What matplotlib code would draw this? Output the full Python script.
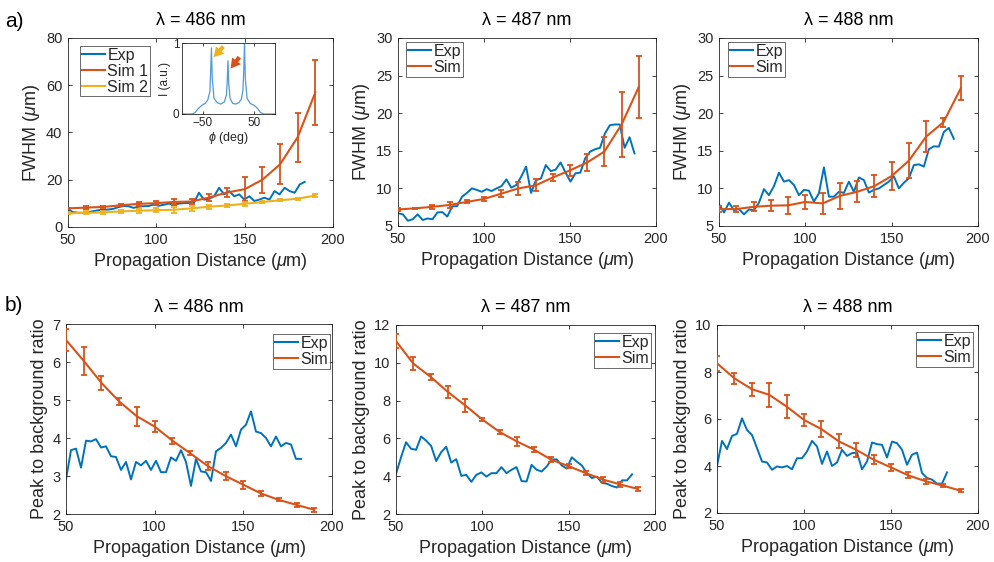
import numpy as np
import matplotlib
matplotlib.use('Agg')
import matplotlib.pyplot as plt
from matplotlib.lines import Line2D

plt.rcParams['font.family'] = ['Liberation Sans', 'DejaVu Sans']
plt.rcParams['mathtext.fontset'] = 'custom'
plt.rcParams['mathtext.rm'] = 'Liberation Sans'
plt.rcParams['mathtext.it'] = 'Liberation Sans:italic'

BLUE = '#0072BD'
ORANGE = '#D95319'
YELLOW = '#EDB120'
AXC = '#262626'

sim_x = [50, 60, 70, 80, 90, 100, 110, 120, 130, 140, 150, 160, 170, 180, 190]

# ---- a) FWHM ----
fw486_exp = [7.4, 6.3, 6.05, 6.0, 6.2, 6.7, 7.1, 7.3, 7.4, 7.7, 8.4, 8.9, 8.8, 8.1, 8.6, 8.8, 8.9, 9.5,
             9.0, 9.4, 9.9, 9.5, 9.9, 10.1, 10.2, 10.2, 14.5, 11.6, 11.9, 13.0, 16.6, 13.8, 15.2, 13.0,
             13.8, 11.6, 13.0, 11.0, 11.6, 12.4, 11.6, 15.2, 13.8, 16.6, 15.2, 14.5, 18.0, 19.1]
fw486_sim1 = [7.9, 8.2, 8.5, 9.2, 9.8, 10.1, 10.6, 10.8, 12.5, 14.6, 16.0, 20.0, 26.5, 38.0, 57.0]
fw486_sim1_err = [0.3, 0.5, 0.5, 0.5, 0.8, 0.8, 1.2, 0.9, 1.4, 2.0, 5.1, 5.5, 8.5, 10.3, 13.8]
fw486_sim2 = [5.8, 6.0, 6.2, 6.6, 6.9, 7.1, 7.3, 7.9, 8.6, 9.1, 9.8, 10.6, 11.3, 12.0, 13.3]
fw486_sim2_err = [0.4, 0.6, 0.6, 0.6, 0.8, 0.8, 1.2, 1.2, 0.8, 0.8, 0.8, 0.6, 0.4, 0.4, 0.8]

fw487_exp = [6.7, 6.55, 5.7, 5.9, 6.55, 5.8, 6.0, 5.9, 6.8, 6.85, 6.25, 7.6, 7.65, 8.9, 9.4, 10.0,
             9.8, 9.55, 9.9, 9.65, 10.0, 10.3, 11.2, 10.1, 10.45, 11.55, 12.9, 9.4, 11.1, 11.3, 13.1,
             12.3, 12.5, 13.45, 12.1, 10.9, 12.0, 12.1, 14.0, 14.9, 15.2, 15.4, 17.3, 18.4, 18.5,
             18.5, 15.4, 16.8, 14.65]
fw487_sim = [7.2, 7.35, 7.55, 7.8, 8.2, 8.6, 9.3, 10.0, 10.4, 11.45, 12.4, 13.45, 14.9, 18.5, 23.5]
fw487_sim_err = [0.25, 0.1, 0.3, 0.4, 0.2, 0.25, 0.5, 0.9, 0.8, 0.5, 0.7, 1.1, 1.9, 4.3, 4.1]

fw488_exp = [7.9, 6.8, 8.1, 7.1, 7.25, 6.55, 7.2, 7.1, 8.1, 9.9, 9.1, 10.3, 12.1, 10.9, 11.1, 10.45,
             9.1, 9.8, 9.7, 8.25, 9.35, 12.8, 8.9, 8.9, 9.55, 9.4, 10.9, 9.55, 11.45, 11.1, 9.45, 9.8,
             10.0, 10.45, 10.9, 11.6, 10.0, 10.75, 11.35, 13.1, 13.2, 12.9, 15.2, 15.6, 15.55, 17.5,
             18.05, 16.6]
fw488_sim = [7.25, 7.25, 7.55, 7.7, 7.75, 8.2, 8.0, 9.0, 9.55, 10.3, 11.65, 13.7, 16.9, 18.8, 23.3]
fw488_sim_err = [0.4, 0.4, 0.6, 0.7, 1.1, 0.9, 1.4, 1.7, 1.4, 1.5, 1.8, 2.3, 2.1, 0.6, 1.6]

# ---- b) peak to background ratio ----
pb486_exp = [2.91, 3.68, 3.72, 3.22, 3.93, 3.91, 3.97, 3.75, 3.78, 3.52, 3.5, 3.16, 3.37, 2.91, 3.37,
             3.28, 3.4, 3.16, 3.4, 3.1, 3.1, 3.49, 3.4, 3.68, 3.37, 2.74, 3.45, 3.12, 3.1, 2.87, 3.65,
             3.74, 3.87, 4.09, 3.78, 4.22, 4.35, 4.7, 4.17, 4.13, 4.0, 3.78, 4.04, 3.78, 3.87, 3.83,
             3.45, 3.45]
pb486_sim = [6.58, 6.03, 5.45, 4.96, 4.57, 4.3, 3.93, 3.6, 3.26, 3.0, 2.77, 2.54, 2.37, 2.24, 2.11]
pb486_sim_err = [0.28, 0.37, 0.18, 0.1, 0.25, 0.15, 0.08, 0.05, 0.1, 0.1, 0.1, 0.07, 0.04, 0.05, 0.05]

pb487_exp = [4.12, 5.0, 5.8, 5.45, 5.4, 6.1, 5.88, 5.6, 4.8, 5.27, 5.56, 4.72, 4.9, 4.02, 4.07, 3.7,
             4.07, 4.2, 3.98, 4.16, 4.16, 4.48, 4.16, 4.34, 4.48, 3.74, 3.72, 4.6, 4.34, 4.25, 4.51,
             4.89, 4.89, 4.57, 4.4, 5.0, 4.77, 4.57, 4.16, 3.9, 3.98, 3.65, 3.6, 3.48, 3.4, 3.78,
             3.78, 4.1]
pb487_sim = [11.15, 9.96, 9.26, 8.46, 7.75, 7.0, 6.34, 5.84, 5.4, 4.87, 4.53, 4.16, 3.82, 3.56, 3.33]
pb487_sim_err = [0.35, 0.35, 0.15, 0.3, 0.35, 0.08, 0.12, 0.22, 0.12, 0.13, 0.12, 0.1, 0.15, 0.12, 0.12]

pb488_exp = [4.0, 5.07, 4.72, 5.28, 5.37, 6.03, 5.53, 5.32, 4.76, 4.19, 4.15, 3.84, 3.98, 3.94, 4.0,
             3.86, 4.33, 4.33, 4.62, 5.07, 4.83, 4.09, 4.62, 4.0, 4.15, 4.69, 4.43, 4.55, 4.57, 3.86,
             4.19, 5.0, 4.93, 4.9, 4.36, 5.04, 4.97, 4.69, 4.05, 4.48, 4.57, 3.7, 3.49, 3.42, 3.25,
             3.25, 3.73]
pb488_sim = [8.37, 7.73, 7.27, 7.03, 6.53, 5.96, 5.57, 5.05, 4.69, 4.27, 3.94, 3.6, 3.35, 3.16, 2.95]
pb488_sim_err = [0.33, 0.22, 0.28, 0.5, 0.5, 0.25, 0.35, 0.3, 0.3, 0.2, 0.15, 0.13, 0.1, 0.07, 0.07]

# last x of each measured series
exp_end = {'a486': 184, 'a487': 187.5, 'a488': 186, 'b486': 182.5, 'b487': 186.7, 'b488': 182.2}

# inset angular profile
inset_phi = [-90, -70, -65, -58, -52, -45, -40, -36, -34.5, -33, -31.5, -28, -22, -15, -8, -4, -2.5,
             -1, 0.5, 3, 8, 14, 20, 25, 28, 29.5, 31, 32.5, 36, 42, 50, 56, 62, 68, 90]
inset_I = [0, 0, 0.02, 0.08, 0.12, 0.15, 0.2, 0.32, 0.6, 0.93, 0.5, 0.22, 0.16, 0.14, 0.17, 0.27,
           0.45, 0.75, 0.42, 0.22, 0.15, 0.14, 0.16, 0.21, 0.34, 0.6, 1.0, 0.5, 0.22, 0.15, 0.12,
           0.08, 0.02, 0, 0]

W, H = 995, 562
fig = plt.figure(figsize=(W / 100, H / 100), dpi=100)


def px_axes(l, t, r, b):
    return fig.add_axes([l / W, 1 - b / H, (r - l) / W, (b - t) / H])


def style(ax, tsize=10.5):
    for s in ax.spines.values():
        s.set_color(AXC)
        s.set_linewidth(0.6)
    ax.tick_params(direction='in', top=True, right=True, length=3, width=0.6,
                   color=AXC, labelcolor=AXC, labelsize=tsize, pad=4)


def legend(ax, labels, colors, anchor, loc):
    handles = [Line2D([], [], color=c, lw=1.5) for c in colors]
    lg = ax.legend(handles, labels, loc=loc, bbox_to_anchor=anchor, borderaxespad=0,
                   fontsize=11.5, frameon=True, fancybox=False, handlelength=1.45,
                   handletextpad=0.15, borderpad=0.12, labelspacing=0.05)
    lg.get_frame().set_edgecolor(AXC)
    lg.get_frame().set_linewidth(0.6)
    for t in lg.get_texts():
        t.set_color(AXC)


def sim_line(ax, y, err, color):
    ax.plot(sim_x, y, color=color, lw=1.5, zorder=3)
    ax.errorbar(sim_x, y, yerr=err, fmt='none', ecolor=color, elinewidth=1.3,
                capsize=2.5, capthick=1.3, zorder=3)


def exp_line(ax, y, end):
    x = np.linspace(50, end, len(y))
    ax.plot(x, y, color=BLUE, lw=1.4, zorder=2)


def finish(ax, title, ylabel, ylim, yticks):
    ax.set_xlim(50, 200)
    ax.set_xticks([50, 100, 150, 200])
    ax.set_ylim(*ylim)
    ax.set_yticks(yticks)
    ax.set_title(title, fontsize=13, color='black', pad=9)
    ax.set_xlabel(r'Propagation Distance ($\mu$m)', fontsize=13, color=AXC, labelpad=3)
    ax.set_ylabel(ylabel, fontsize=13, color=AXC, labelpad=3)
    style(ax)


fwhm_label = r'FWHM ($\mu$m)'
ratio_label = 'Peak to background ratio'

# row a
ax = px_axes(68, 38, 333, 227)
exp_line(ax, fw486_exp, exp_end['a486'])
sim_line(ax, fw486_sim1, fw486_sim1_err, ORANGE)
sim_line(ax, fw486_sim2, fw486_sim2_err, YELLOW)
finish(ax, 'λ = 486 nm', fwhm_label, (0, 80), [0, 20, 40, 60, 80])
legend(ax, ['Exp', 'Sim 1', 'Sim 2'], [BLUE, ORANGE, YELLOW], (12 / 265, 1 - 8 / 189), 'upper left')

ins = px_axes(182, 43, 275, 114)
ins.plot(inset_phi, inset_I, color='#4F9BDB', lw=0.9)
ins.set_xlim(-90, 90)
ins.set_ylim(0, 1)
ins.set_xticks([-50, 50])
ins.set_yticks([0, 1])
style(ins, tsize=8.5)
ins.tick_params(length=2, pad=2)
ins.set_xlabel(r'$\phi$ (deg)', fontsize=9, color=AXC, labelpad=1)
ins.set_ylabel('I (a.u.)', fontsize=8.5, color=AXC, labelpad=1)
arrow = 'simple,head_length=0.7,head_width=0.8,tail_width=0.3'
ins.annotate('', xy=(-29, 0.8), xytext=(-10, 0.95),
             arrowprops=dict(arrowstyle=arrow, color=YELLOW, mutation_scale=10,
                             shrinkA=0, shrinkB=0, lw=0))
ins.annotate('', xy=(4, 0.64), xytext=(21, 0.8),
             arrowprops=dict(arrowstyle=arrow, color=ORANGE, mutation_scale=10,
                             shrinkA=0, shrinkB=0, lw=0))

ax = px_axes(398, 38, 656, 226)
exp_line(ax, fw487_exp, exp_end['a487'])
sim_line(ax, fw487_sim, fw487_sim_err, ORANGE)
finish(ax, 'λ = 487 nm', fwhm_label, (5, 30), [5, 10, 15, 20, 25, 30])
legend(ax, ['Exp', 'Sim'], [BLUE, ORANGE], (8 / 258, 1 - 4 / 188), 'upper left')

ax = px_axes(719, 38, 978, 226)
exp_line(ax, fw488_exp, exp_end['a488'])
sim_line(ax, fw488_sim, fw488_sim_err, ORANGE)
finish(ax, 'λ = 488 nm', fwhm_label, (5, 30), [5, 10, 15, 20, 25, 30])
legend(ax, ['Exp', 'Sim'], [BLUE, ORANGE], (9 / 259, 1 - 4 / 188), 'upper left')

# row b
ax = px_axes(66, 324, 332, 514)
exp_line(ax, pb486_exp, exp_end['b486'])
sim_line(ax, pb486_sim, pb486_sim_err, ORANGE)
finish(ax, 'λ = 486 nm', ratio_label, (2, 7), [2, 3, 4, 5, 6, 7])
legend(ax, ['Exp', 'Sim'], [BLUE, ORANGE], (1 - 2 / 266, 1 - 10 / 190), 'upper right')

ax = px_axes(396, 325, 655, 514)
exp_line(ax, pb487_exp, exp_end['b487'])
sim_line(ax, pb487_sim, pb487_sim_err, ORANGE)
finish(ax, 'λ = 487 nm', ratio_label, (2, 12), [2, 4, 6, 8, 10, 12])
legend(ax, ['Exp', 'Sim'], [BLUE, ORANGE], (1 - 4 / 259, 1 - 8 / 189), 'upper right')

ax = px_axes(717, 325, 978, 513)
exp_line(ax, pb488_exp, exp_end['b488'])
sim_line(ax, pb488_sim, pb488_sim_err, ORANGE)
finish(ax, 'λ = 488 nm', ratio_label, (2, 10), [2, 4, 6, 8, 10])
legend(ax, ['Exp', 'Sim'], [BLUE, ORANGE], (1 - 5 / 261, 1 - 7 / 188), 'upper right')

fig.text(5 / W, 1 - 27 / H, 'a)', fontsize=15, color='black')
fig.text(5 / W, 1 - 311 / H, 'b)', fontsize=15, color='black')

fig.savefig('out.png', dpi=100)
